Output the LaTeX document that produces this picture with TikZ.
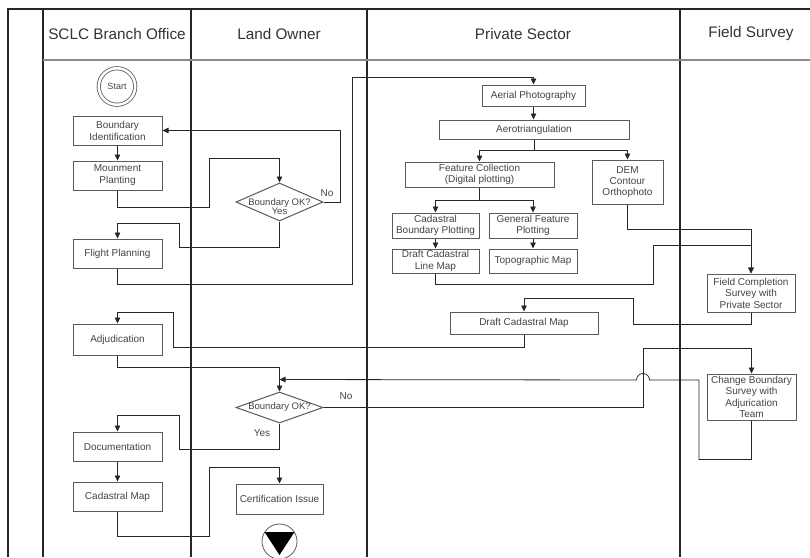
\documentclass[tikz,border=0pt]{standalone}
\usepackage{fontspec}
\setmainfont{Liberation Sans}
\usetikzlibrary{shapes.geometric,arrows.meta}
\definecolor{boxgray}{HTML}{5A5A5A}
\definecolor{txtgray}{HTML}{444444}
\definecolor{rulegray}{HTML}{8A8A8A}

\begin{document}
\begin{tikzpicture}[x=1pt, y=-1pt, every node/.style={font=\fontsize{10}{12}\selectfont, text=txtgray}, >={Stealth[length=6pt, width=5.5pt, inset=0pt]}, line width=0.8pt]

\tikzstyle{box}=[draw=boxgray, line width=1pt, fill=white, align=center, inner sep=0pt]
\tikzstyle{decision}=[diamond, draw=boxgray, line width=1pt, fill=white, inner sep=0pt]
\tikzstyle{lane}=[font=\fontsize{15.3}{18}\selectfont, text=black!80]
\tikzstyle{flow}=[->, draw=black!85]

\useasboundingbox (0,0) rectangle (810,557);

% swimlanes
\draw[line width=1.6pt, black!85] (8,557) -- (8,9) -- (810,9);
\draw[line width=1.2pt, black!85] (43,9) -- (43,557);
\foreach \x in {191,367,680}
  \draw[line width=1.2pt, black!85] (\x,9) -- (\x,557);
\draw[line width=1.2pt, rulegray] (43,60) -- (810,60);

\node[lane] (sclc) at (117,34) {SCLC Branch Office};
\node[lane] (owner) at (279,34) {Land Owner};
\node[lane] (private) at (523,34) {Private Sector};
\node[lane] (field) at (751,34) {Field Survey};

% SCLC Branch Office
\node[circle, draw=boxgray, double, double distance=2.5pt, line width=0.8pt, minimum size=36.5pt, inner sep=0pt, font=\fontsize{9}{10}\selectfont] (start) at (117,86.5) {Start};
\node[box, minimum width=89pt, minimum height=29pt] (bi) at (117.5,130.5) {Boundary\\Identification};
\node[box, minimum width=89pt, minimum height=29pt] (mp) at (117.5,175.5) {Mounment\\Planting};
\node[box, minimum width=89pt, minimum height=29pt] (fp) at (117.5,253.5) {Flight Planning};
\node[box, minimum width=89pt, minimum height=31pt] (adj) at (117.5,339.5) {Adjudication};
\node[box, minimum width=89pt, minimum height=29pt] (doc) at (117.5,446.5) {Documentation};
\node[box, minimum width=89pt, minimum height=29pt] (cm) at (117.5,496.5) {Cadastral Map};

% Land Owner
\node[decision, minimum width=87pt, minimum height=38pt,
  label={[align=center, yshift=-4.4pt, font=\fontsize{9.5}{9.3}\selectfont]center:{Boundary OK?\\Yes}}] (chk1) at (279.5,202) {};
\node (no1) at (327,193) {No};
\node[decision, minimum width=87pt, minimum height=31pt,
  label={[font=\fontsize{9.5}{11}\selectfont]center:Boundary OK?}] (chk2) at (279.5,407.5) {};
\node (no2) at (346,396) {No};
\node (yes2) at (262,433) {Yes};
\node[box, minimum width=87pt, minimum height=30pt] (ci) at (279.5,499) {Certification Issue};
\node[circle, draw=boxgray, line width=0.8pt, minimum size=35pt, inner sep=0pt] (stop) at (279.5,541.5) {};
\fill[black] (stop.center) ++(-15,-9.5) -- ++(30,0) -- ++(-15,23) -- cycle;

% Private Sector
\node[box, minimum width=103pt, minimum height=21pt] (ap) at (533.5,95.5) {Aerial Photography};
\node[box, minimum width=190pt, minimum height=19pt] (at) at (534,129.5) {Aerotriangulation};
\node[box, minimum width=149pt, minimum height=25pt, font=\fontsize{10}{11.5}\selectfont] (fc) at (479.5,174.5) {Feature Collection\\(Digital plotting)};
\node[box, minimum width=71pt, minimum height=44pt, font=\fontsize{10}{11}\selectfont] (dem) at (627.5,182) {DEM\\Contour\\Orthophoto};
\node[box, minimum width=87pt, minimum height=25pt, font=\fontsize{10}{11.5}\selectfont] (cbp) at (435.5,225.5) {Cadastral\\Boundary Plotting};
\node[box, minimum width=88pt, minimum height=25pt, font=\fontsize{10}{11.5}\selectfont] (gfp) at (533,225.5) {General Feature\\Plotting};
\node[box, minimum width=87pt, minimum height=24pt, font=\fontsize{10}{11.5}\selectfont] (dclm) at (435.5,261) {Draft Cadastral\\Line Map};
\node[box, minimum width=88pt, minimum height=24pt] (tm) at (533,261) {Topographic Map};
\node[box, minimum width=148pt, minimum height=22pt] (dcm) at (524,323) {Draft Cadastral Map};

% Field Survey
\node[box, minimum width=88pt, minimum height=38pt, font=\fontsize{10}{11.5}\selectfont] (fcs) at (751,293) {Field Completion\\Survey with\\Private Sector};
\node[box, minimum width=89pt, minimum height=46pt, font=\fontsize{10}{11.3}\selectfont] (cbs) at (751.5,397) {Change Boundary\\Survey with\\Adjurication\\Team};

\coordinate (merge) at ([yshift=12pt]chk2.north);

% flows
\draw[flow] (bi) -- (mp);
\draw[flow] (mp.south) -- ++(0,17) -| (209,158) -| (chk1.north);
\draw[flow] (chk1.east) -- ++(17,0) |- (bi.east);
\draw[flow] (chk1.south) -- ++(0,26) -| (179,223) -| (fp.north);
\draw[flow] (fp.south) -- ++(0,16) -| (352,77) -| (ap.north);
\draw[flow] (ap.south) -- (ap.south |- at.north);
\draw[flow] (at.south) -- ++(0,11) -| (fc.north);
\draw[flow] (at.south) -- ++(0,11) -| (dem.north);
\draw[flow] (fc.south) -- ++(0,13) -| (cbp.north);
\draw[flow] (fc.south) -- ++(0,13) -| (gfp.north);
\draw[flow] (cbp) -- (dclm);
\draw[flow] (gfp) -- (tm);
\draw[flow] (dem.south) -- ++(0,25) -| (fcs.north);
\draw[flow] (dclm.south) -- ++(0,11) -| (653,245) -| (fcs.north);
\draw[flow] (fcs.south) -- ++(0,12) -| (633,298) -| (dcm.north);
\draw[flow] (dcm.south) -- ++(0,13) -| (173,312) -| (adj.north);
\draw[flow] (adj.south) -- ++(0,12) -| (chk2.north);
\draw[flow] (chk2.east) -| (643,348) -| (cbs.north);
\draw[flow] (cbs.south) -- ++(0,39) -| (699,380) -- (649.5,380) arc[start angle=0, end angle=180, radius=6.5pt] -- (merge);
\draw[flow] (chk2.south) -- ++(0,26) -| (179,415) -| (doc.north);
\draw[flow] (doc) -- (cm);
\draw[flow] (cm.south) -- ++(0,25) -| (209,467) -| (ci.north);
\end{tikzpicture}
\end{document}
